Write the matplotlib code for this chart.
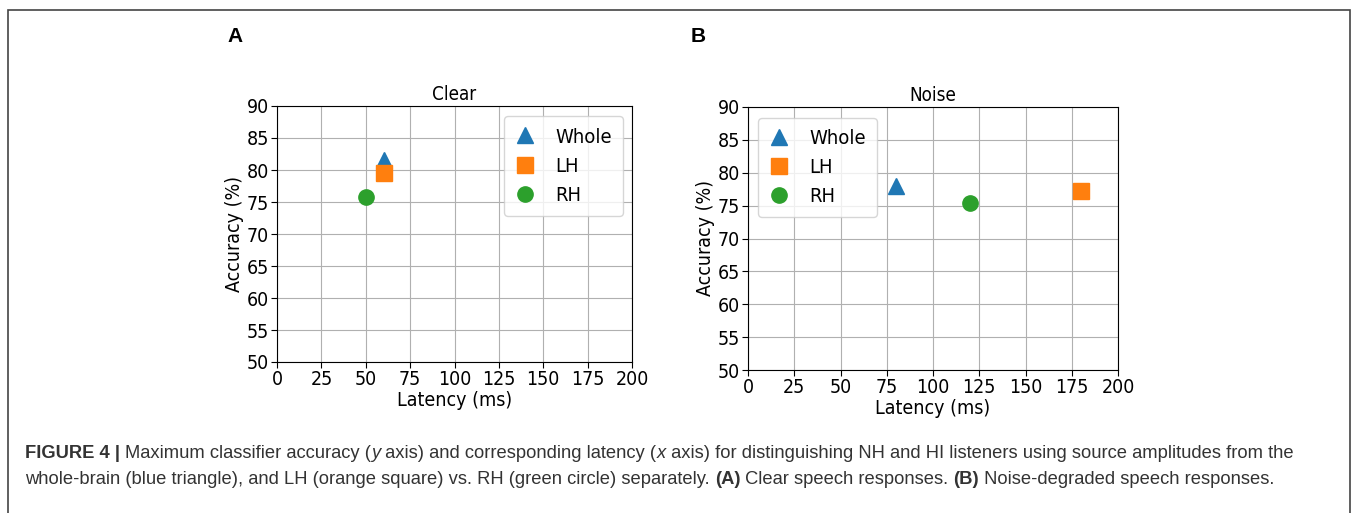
import matplotlib
matplotlib.use('Agg')
import matplotlib.pyplot as plt
from matplotlib.font_manager import FontProperties
from matplotlib.patches import Rectangle

# data
series = ["Whole", "LH", "RH"]
markers = ["^", "s", "o"]
colors = ["#1f77b4", "#ff7f0e", "#2ca02c"]

clear_latency = [60, 60, 50]
clear_acc = [81.5, 79.6, 75.8]

noise_latency = [80, 180, 120]
noise_acc = [78.0, 77.3, 75.4]

xticks = [0, 25, 50, 75, 100, 125, 150, 175, 200]
yticks = [50, 55, 60, 65, 70, 75, 80, 85, 90]

W, H = 1358, 513
fig = plt.figure(figsize=(W / 100, H / 100), dpi=100)

tick_fp = FontProperties(family="DejaVu Sans", stretch="condensed", size=14)
legend_fp = FontProperties(family="DejaVu Sans", stretch="condensed", size=14.5)
title_fp = FontProperties(family="DejaVu Sans", stretch="condensed", size=13.5)


def panel(rect, lat, acc, title, legend_loc):
    ax = fig.add_axes(rect)
    for i in range(len(series)):
        ax.plot(lat[i], acc[i], linestyle="none", marker=markers[i],
                color=colors[i], markersize=11, label=series[i], zorder=3)
    ax.set_xlim(0, 200)
    ax.set_ylim(50, 90)
    ax.set_xticks(xticks)
    ax.set_yticks(yticks)
    ax.grid(True, color="#b0b0b0", linewidth=0.8)
    ax.set_axisbelow(True)
    for lab in ax.get_xticklabels() + ax.get_yticklabels():
        lab.set_fontproperties(tick_fp)
    ax.tick_params(length=4, pad=2)
    ax.set_xlabel("Latency (ms)", labelpad=1, fontproperties=tick_fp)
    ax.set_ylabel("Accuracy (%)", labelpad=2, fontproperties=tick_fp)
    ax.set_title(title, pad=4, fontproperties=title_fp)
    anchor = (0.985, 0.975) if legend_loc == "upper right" else (0.015, 0.975)
    leg = ax.legend(loc=legend_loc, prop=legend_fp, handlelength=1.0,
                    handletextpad=1.0, borderpad=0.55, labelspacing=0.5,
                    borderaxespad=0.2, bbox_to_anchor=anchor, numpoints=1)
    leg.set_zorder(2)
    return ax


panel([277 / W, 1 - 362 / H, 355 / W, 256 / H], clear_latency, clear_acc, "Clear", "upper right")
panel([748 / W, 1 - 370 / H, 370 / W, 263 / H], noise_latency, noise_acc, "Noise", "upper left")

# panel letters
fig.text(227 / W, 1 - 37 / H, "A", family="Liberation Sans", weight="bold", size=15, va="center")
fig.text(691 / W, 1 - 37 / H, "B", family="Liberation Sans", weight="bold", size=15, va="center")

# outer frame
fig.add_artist(Rectangle((8 / W, -0.1), (1350 - 8) / W, 1.1 - 10 / H,
                         transform=fig.transFigure, fill=False,
                         edgecolor="#444444", linewidth=1.2))

# caption with mixed styles
cap_color = "#333333"
line1 = [("FIGURE 4 | ", "bold", "normal"),
         ("Maximum classifier accuracy (", "normal", "normal"),
         ("y", "normal", "italic"),
         (" axis) and corresponding latency (", "normal", "normal"),
         ("x", "normal", "italic"),
         (" axis) for distinguishing NH and HI listeners using source amplitudes from the", "normal", "normal")]
line2 = [("whole-brain (blue triangle), and LH (orange square) vs. RH (green circle) separately. ", "normal", "normal"),
         ("(A)", "bold", "normal"),
         (" Clear speech responses. ", "normal", "normal"),
         ("(B)", "bold", "normal"),
         (" Noise-degraded speech responses.", "normal", "normal")]

renderer = fig.canvas.get_renderer()


def draw_line(runs, x0, y0):
    x = x0
    for txt, weight, style in runs:
        t = fig.text(x / W, 1 - y0 / H, txt, family="Liberation Sans", size=13.2,
                     weight=weight, style=style, color=cap_color, va="baseline")
        bb = t.get_window_extent(renderer=renderer)
        x += bb.width


draw_line(line1, 25, 458)
draw_line(line2, 25, 484)

fig.savefig("out.png", dpi=100)
